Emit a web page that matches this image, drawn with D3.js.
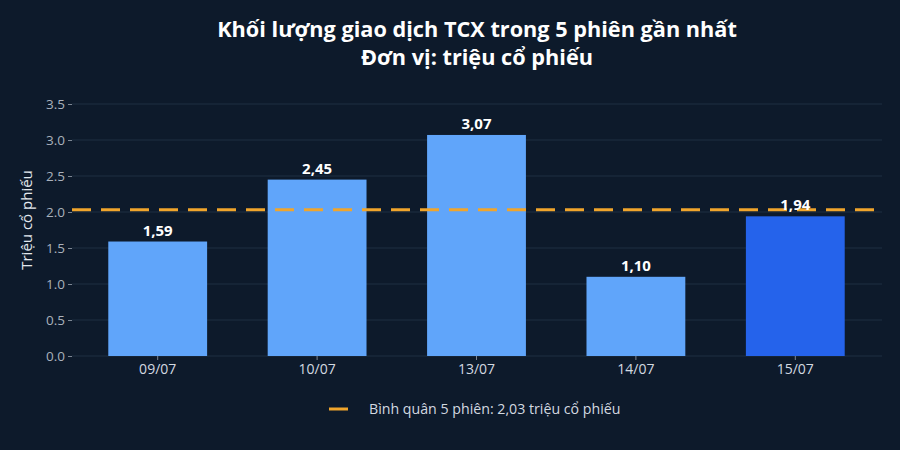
<!DOCTYPE html>
<html>
<head>
<meta charset="utf-8">
<script src="https://cdn.jsdelivr.net/npm/d3@7"></script>
<style>
  body { margin: 0; background: #0d1a2b; }
  svg { display: block; font-family: "Open Sans", "Noto Sans", sans-serif; }
</style>
</head>
<body>
<svg id="chart"></svg>
<script>
var sessions = ["09/07", "10/07", "13/07", "14/07", "15/07"];
var volumes = [1.59, 2.45, 3.07, 1.10, 1.94];
var yTicks = [0, 0.5, 1, 1.5, 2, 2.5, 3, 3.5];
var average = 2.03;
var titleLines = ["Khối lượng giao dịch TCX trong 5 phiên gần nhất", "Đơn vị: triệu cổ phiếu"];
var legendLabel = "Bình quân 5 phiên: 2,03 triệu cổ phiếu";

var width = 900, height = 450;
var plotLeft = 72, plotRight = 882;
var font = "Open Sans";

var svg = d3.select("#chart").attr("width", width).attr("height", height);
svg.append("rect").attr("width", width).attr("height", height).attr("fill", "#0d1a2b");

var x = d3.scaleBand().domain(sessions).range([78, 875]).paddingInner(0.38).paddingOuter(0.19);
var y = d3.scaleLinear().domain([0, 3.5]).range([356, 104]);

var fmt = function (v) { return d3.format(".2f")(v).replace(".", ","); };

// grid
svg.selectAll("line.grid")
	.data(yTicks)
	.enter()
	.append("line")
	.attr("class", "grid")
	.attr("x1", plotLeft).attr("x2", plotRight)
	.attr("y1", d => y(d)).attr("y2", d => y(d))
	.attr("stroke", "#1f2e42")
	.attr("stroke-width", 1);

// y axis
var yAxis = svg.append("g")
	.attr("transform", "translate(" + plotLeft + ",0)")
	.call(d3.axisLeft(y).tickValues(yTicks).tickFormat(d3.format(".1f")).tickSize(4).tickPadding(3));
yAxis.select(".domain").remove();
yAxis.selectAll("line").attr("stroke", "#7d8794");
yAxis.selectAll("text").attr("fill", "#a9b1bc").attr("font-size", "13.5px").attr("font-family", font);

// x axis
var xAxis = svg.append("g")
	.attr("transform", "translate(0,356)")
	.call(d3.axisBottom(x).tickSize(4).tickPadding(4));
xAxis.select(".domain").remove();
xAxis.selectAll("line").attr("stroke", "#7d8794");
xAxis.selectAll("text").attr("fill", "#d3d9e0").attr("font-size", "14px").attr("font-family", font);

// bars
svg.selectAll("rect.bar")
	.data(sessions)
	.enter()
	.append("rect")
	.attr("class", "bar")
	.attr("x", d => x(d))
	.attr("width", x.bandwidth())
	.attr("y", (d, i) => y(volumes[i]))
	.attr("height", (d, i) => y(0) - y(volumes[i]))
	.attr("fill", (d, i) => i == sessions.length - 1 ? "#2563eb" : "#60a5fa");

// average line
svg.append("line")
	.attr("x1", plotLeft).attr("x2", plotRight)
	.attr("y1", y(average)).attr("y2", y(average))
	.attr("stroke", "#f0a52c")
	.attr("stroke-width", 3)
	.attr("stroke-dasharray", "19,10");

// value labels
svg.selectAll("text.value")
	.data(sessions)
	.enter()
	.append("text")
	.attr("class", "value")
	.attr("x", d => x(d) + x.bandwidth() / 2)
	.attr("y", (d, i) => y(volumes[i]) - 6)
	.attr("text-anchor", "middle")
	.attr("font-size", "15px")
	.attr("font-weight", "bold")
	.attr("fill", "#ffffff")
	.text((d, i) => fmt(volumes[i]));

// title
svg.selectAll("text.title")
	.data(titleLines)
	.enter()
	.append("text")
	.attr("class", "title")
	.attr("x", 477)
	.attr("y", (d, i) => 37 + i * 28)
	.attr("text-anchor", "middle")
	.attr("font-size", "21.7px")
	.attr("font-weight", "bold")
	.attr("fill", "#ffffff")
	.text(d => d);

// y title
svg.append("text")
	.attr("transform", "translate(32,220) rotate(-90)")
	.attr("text-anchor", "middle")
	.attr("font-size", "15px")
	.attr("fill", "#e3e8ee")
	.text("Triệu cổ phiếu");

// legend
svg.append("line")
	.attr("x1", 329).attr("x2", 348)
	.attr("y1", 409).attr("y2", 409)
	.attr("stroke", "#f0a52c")
	.attr("stroke-width", 3);
svg.append("text")
	.attr("x", 369)
	.attr("y", 414)
	.attr("font-size", "14.2px")
	.attr("fill", "#d3d9e0")
	.text(legendLabel);
</script>
</body>
</html>
